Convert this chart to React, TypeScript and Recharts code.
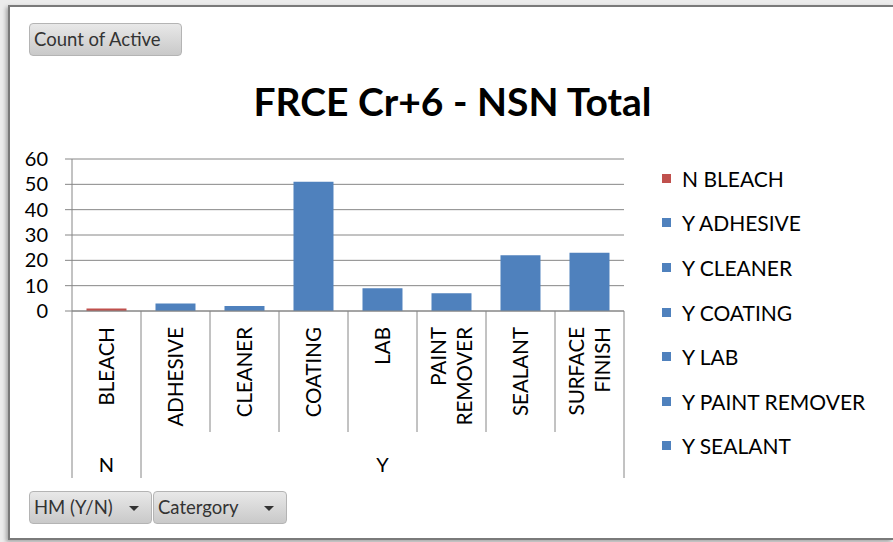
import React from 'react';
import { BarChart, Bar, XAxis, YAxis, CartesianGrid, Cell } from 'recharts';

// chart values
const hmFlags = ['N', 'Y', 'Y', 'Y', 'Y', 'Y', 'Y', 'Y'];
const categories = ['BLEACH', 'ADHESIVE', 'CLEANER', 'COATING', 'LAB', 'PAINT REMOVER', 'SEALANT', 'SURFACE FINISH'];
const counts = [1, 3, 2, 51, 9, 7, 22, 23];
const yTicks = [0, 10, 20, 30, 40, 50, 60];

const FONT = 'Lato, "Open Sans", sans-serif';
const GRID = '#868686';
const FRAME = '#7a7a7a';
const SERIES_COLORS: Record<string, string> = { N: '#C0504D', Y: '#4F81BD' };

const chartData = categories.map((cat, i) => ({
  key: `${hmFlags[i]}|${cat}`,
  hm: hmFlags[i],
  category: cat,
  value: counts[i],
}));

// plot geometry
const CHART_W = 893;
const CHART_H = 542;
const MARGIN = { top: 159, right: 269, left: 12, bottom: 62 };
const Y_AXIS_W = 60;
const X_AXIS_H = 169;
const PLOT_W = CHART_W - MARGIN.left - MARGIN.right - Y_AXIS_W;

// legend box: only as many rows as fit (the original cuts the list short)
const LEGEND_ROW = 44.6;
const LEGEND_BOX_H = 320;
const legendRows = chartData.slice(0, Math.floor(LEGEND_BOX_H / LEGEND_ROW));

function CategoryTick(props: any) {
  const { x, y, payload } = props;
  const index = payload.index ?? 0;
  const half = payload.offset || PLOT_W / categories.length / 2;
  const row = chartData[index];
  const lines = row.category.split(' ');
  const top = y + 16;
  const left = x - half;
  const right = x + half;
  const newGroup = index === 0 || chartData[index - 1].hm !== row.hm;
  const isLast = index === chartData.length - 1;

  // group label centred over the run of categories with the same flag
  let groupLabel = null;
  if (newGroup) {
    let n = 0;
    while (index + n < chartData.length && chartData[index + n].hm === row.hm) n++;
    const cx = left + n * half;
    groupLabel = (
      <text x={cx} y={y + 161} textAnchor="middle" fontSize={20} fontFamily={FONT} fill="#000">
        {row.hm}
      </text>
    );
  }

  return (
    <g>
      <line x1={left} x2={left} y1={y} y2={newGroup ? y + 167 : y + 121} stroke={GRID} strokeWidth={1} />
      {isLast && <line x1={right} x2={right} y1={y} y2={y + 167} stroke={GRID} strokeWidth={1} />}
      {lines.map((ln: string, i: number) => {
        const off = (i - (lines.length - 1) / 2) * 26;
        return (
          <text
            key={ln}
            x={x}
            y={top}
            dy="0.36em"
            transform={`rotate(-90, ${x}, ${top}) translate(0, ${off})`}
            textAnchor="end"
            fontSize={20.5}
            fontFamily={FONT}
            fill="#000"
          >
            {ln}
          </text>
        );
      })}
      {groupLabel}
    </g>
  );
}

const buttonStyle: React.CSSProperties = {
  position: 'absolute',
  height: 33,
  boxSizing: 'border-box',
  border: '1px solid #b4b4b4',
  borderRadius: 4,
  background: 'linear-gradient(#e8e8e8, #c9c9c9)',
  color: '#333',
  fontFamily: FONT,
  fontSize: 18.5,
  lineHeight: '31px',
  paddingLeft: 4,
  whiteSpace: 'nowrap',
};

const arrow = (
  <span style={{ position: 'absolute', right: 12, top: 14, width: 0, height: 0, borderLeft: '5px solid transparent', borderRight: '5px solid transparent', borderTop: '5px solid #333' }} />
);

export default function App() {
  return (
    <div style={{ position: 'fixed', left: 0, top: 0, width: CHART_W, height: CHART_H, overflow: 'hidden', background: '#ececec' }}>
      {/* workbook frame: white sheet with a dark edge on top, left and bottom */}
      <div style={{ position: 'absolute', left: 8, top: 5, right: 0, bottom: 2, background: '#fff', boxShadow: '-2px 2px 4px rgba(0,0,0,0.3)' }} />
      <div style={{ position: 'absolute', left: 8, top: 5, right: 0, height: 2, background: FRAME }} />
      <div style={{ position: 'absolute', left: 8, top: 5, width: 2, bottom: 2, background: FRAME }} />
      <div style={{ position: 'absolute', left: 8, bottom: 2, right: 0, height: 2, background: FRAME }} />

      <div style={{ position: 'absolute', left: 0, top: 0 }}>
        <BarChart width={CHART_W} height={CHART_H} data={chartData} margin={MARGIN} barCategoryGap="21%">
          <CartesianGrid vertical={false} stroke={GRID} strokeWidth={1} />
          <YAxis
            width={Y_AXIS_W}
            domain={[0, 60]}
            ticks={yTicks}
            interval={0}
            axisLine={{ stroke: GRID }}
            tickLine={{ stroke: GRID }}
            tickSize={7}
            tickMargin={17}
            tick={{ fontSize: 20, fontFamily: FONT, fill: '#000' }}
          />
          <XAxis
            dataKey="key"
            height={X_AXIS_H}
            interval={0}
            axisLine={{ stroke: GRID }}
            tickLine={false}
            tickSize={0}
            tickMargin={0}
            tick={<CategoryTick />}
          />
          <Bar dataKey="value" isAnimationActive={false}>
            {chartData.map((d) => (
              <Cell key={d.key} fill={SERIES_COLORS[d.hm]} />
            ))}
          </Bar>
        </BarChart>
      </div>

      <div style={{ position: 'absolute', left: 6, width: CHART_W, top: 78, textAlign: 'center', fontFamily: FONT, fontWeight: 700, fontSize: 39, lineHeight: '46px', color: '#000' }}>
        FRCE Cr+6 - NSN Total
      </div>

      <div style={{ position: 'absolute', left: 662, top: 156, height: LEGEND_BOX_H, fontFamily: FONT, fontSize: 21, color: '#000' }}>
        {legendRows.map((d) => (
          <div key={d.key} style={{ height: LEGEND_ROW, display: 'flex', alignItems: 'center', whiteSpace: 'nowrap' }}>
            <span style={{ width: 9, height: 9, background: SERIES_COLORS[d.hm], marginRight: 11 }} />
            <span>{d.hm} {d.category}</span>
          </div>
        ))}
      </div>

      <div style={{ ...buttonStyle, left: 29, top: 23, width: 153 }}>Count of Active</div>
      <div style={{ ...buttonStyle, left: 29, top: 491, width: 123 }}>HM (Y/N){arrow}</div>
      <div style={{ ...buttonStyle, left: 153, top: 491, width: 134 }}>Catergory{arrow}</div>
    </div>
  );
}
